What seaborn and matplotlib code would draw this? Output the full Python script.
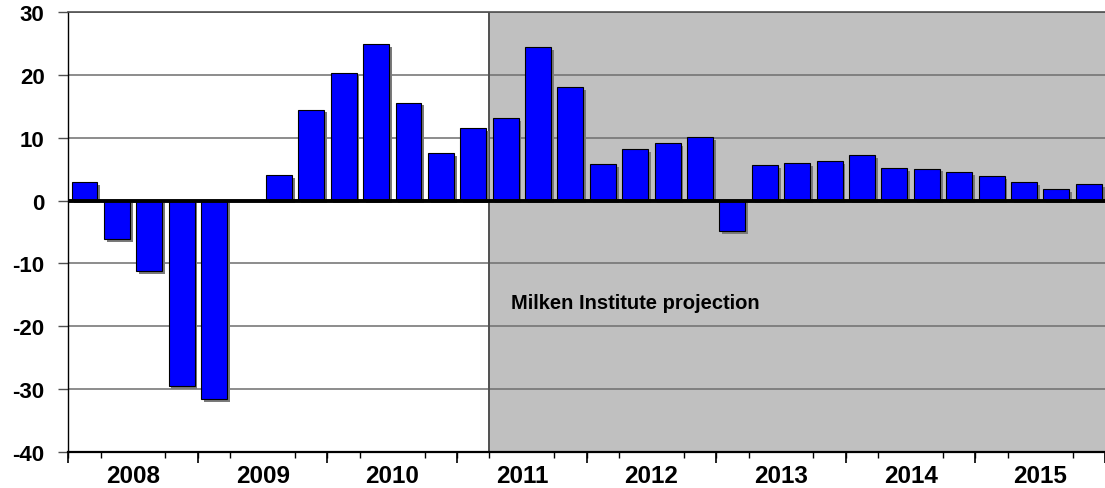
import numpy as np
import pandas as pd
import matplotlib
matplotlib.use("Agg")
import matplotlib.pyplot as plt
import matplotlib.patheffects as pe
import seaborn as sns

# quarterly values, 2008 Q1 .. 2015 Q4
years = [2008, 2009, 2010, 2011, 2012, 2013, 2014, 2015]
quarters = [f"{y} Q{q}" for y in years for q in range(1, 5)]
values = [3.0, -6.1, -11.2, -29.5,
          -31.6, 0.0, 4.1, 14.5,
          20.4, 24.9, 15.6, 7.6,
          11.6, 13.1, 24.5, 18.1,
          5.8, 8.2, 9.1, 10.1,
          -4.8, 5.6, 6.0, 6.3,
          7.2, 5.2, 5.1, 4.5,
          3.9, 2.9, 1.8, 2.6]
projection_start = "2011 Q2"
projection_label = "Milken Institute projection"

df = pd.DataFrame({"quarter": quarters, "value": values})

sns.set_style("white")
plt.rcParams["font.family"] = ["Liberation Sans", "DejaVu Sans"]
plt.rcParams["font.weight"] = "bold"
plt.rcParams["text.color"] = "black"
plt.rcParams["xtick.color"] = "black"
plt.rcParams["ytick.color"] = "black"

fig = plt.figure(figsize=(11.05, 4.89), dpi=100)
ax = fig.add_axes([0.0618, 0.0742, 0.9382, 0.8986])

sns.barplot(data=df, x="quarter", y="value", order=quarters, color="#0000FF",
            saturation=1, edgecolor="black", linewidth=0.8, width=0.8,
            errorbar=None, ax=ax, zorder=2)

# little drop shadow like the original
for bar in ax.patches:
    bar.set_path_effects([pe.SimplePatchShadow(offset=(2, -2), shadow_rgbFace="#7a7a7a", alpha=1),
                          pe.Normal()])

n = len(quarters)
ax.set_xlim(-0.5, n - 0.8)
ax.set_ylim(-40, 30)

# shaded projection period
p0 = quarters.index(projection_start) - 0.5
ax.axvspan(p0, n, color="#C0C0C0", zorder=0.1, lw=0)
ax.axvline(p0, color="#505050", lw=1.4, zorder=0.6)
ax.text(p0 + 0.66, -16.3, projection_label, fontsize=14.5, fontweight="bold",
        color="black", va="center", ha="left")

ax.set_axisbelow(True)
ax.yaxis.grid(True, color="#6e6e6e", lw=1.1)
ax.axhline(0, color="black", lw=2.8, zorder=3)

ax.set_yticks(range(-40, 31, 10))
ax.set_yticklabels([str(v) for v in range(-40, 31, 10)], fontsize=16, fontweight="bold")
ax.tick_params(axis="y", left=True, length=7, width=1, color="#505050",
               labelcolor="black", pad=10)

# year labels in the middle of each year, short ticks at quarter boundaries
year_centers = [4 * i + 1.5 for i in range(len(years))]
ax.set_xticks(year_centers)
ax.set_xticklabels([str(y) for y in years], fontsize=17.5, fontweight="bold")
ax.tick_params(axis="x", which="major", length=0, pad=9, labelcolor="black")
ax.set_xticks(np.arange(-0.5, n, 1.0), minor=True)
ax.tick_params(axis="x", which="minor", bottom=True, length=4, width=1, color="black")
sec = ax.secondary_xaxis("bottom")
sec.set_xticks(np.arange(-0.5, n + 1, 4.0))
sec.set_xticklabels([])
sec.tick_params(length=8, width=1.2, color="black")
sec.spines["bottom"].set_visible(False)

ax.set_xlabel("")
ax.set_ylabel("")
ax.spines["left"].set_color("black")
ax.spines["left"].set_linewidth(1)
ax.spines["bottom"].set_color("black")
ax.spines["bottom"].set_linewidth(1.6)
ax.spines["top"].set_color("#505050")
ax.spines["top"].set_linewidth(1.2)
ax.spines["right"].set_visible(False)

fig.savefig("out.png", dpi=100)
